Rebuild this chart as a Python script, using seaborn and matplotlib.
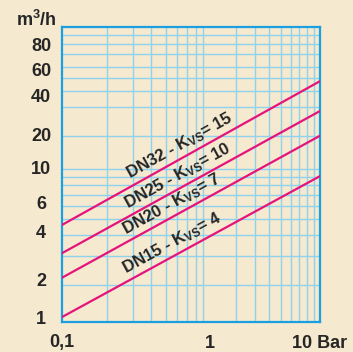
import numpy as np
import pandas as pd
import matplotlib
matplotlib.use("Agg")
import matplotlib.pyplot as plt
import seaborn as sns
from matplotlib.ticker import FixedLocator, NullFormatter, FixedFormatter

# valve flow curves (pressure drop bar -> flow m3/h)
dn_names = ["DN15", "DN20", "DN25", "DN32"]
kvs = [4, 7, 10, 15]
dp_bar = [0.1, 5.5]
q_dn15 = [1.27, 9.1]
q_dn20 = [2.2, 16.0]
q_dn25 = [3.1, 22.6]
q_dn32 = [4.6, 34.3]

# axis labelling as printed on the chart
x_tick_vals = [0.1, 1, 5.5]
x_tick_labels = ["0,1", "1", "10 Bar"]
y_tick_vals = [1.27, 2.15, 4.2, 6.25, 10.2, 16.2, 27.9, 40.1, 56.9]
y_tick_labels = ["1", "2", "4", "6", "10", "20", "40", "60", "80"]
x_grid = [0.2, 0.3, 0.4, 0.5, 0.6, 0.7, 0.8, 0.9, 1, 1.5, 2, 2.5, 3, 3.5, 4, 4.5, 5]
y_grid = [2, 3, 4, 5, 6, 7, 8, 9, 10, 16, 24, 30, 36, 42, 50, 58, 65]

bg = "#f5e9cf"
pink = "#e4147c"
grid_blue = "#8fd2ee"
spine_blue = "#1a9fe0"

series = [q_dn15, q_dn20, q_dn25, q_dn32]
df = pd.concat([pd.DataFrame({"dp": dp_bar, "q": q, "dn": name})
                for name, q in zip(dn_names, series)], ignore_index=True)

sns.set_style("white")
plt.rcParams["font.family"] = ["Liberation Sans", "DejaVu Sans"]
plt.rcParams["font.weight"] = "bold"
plt.rcParams["mathtext.fontset"] = "custom"
plt.rcParams["mathtext.rm"] = "Liberation Sans:bold"
plt.rcParams["mathtext.bf"] = "Liberation Sans:bold"

fig = plt.figure(figsize=(3.53, 3.52), dpi=100, facecolor=bg)
ax = fig.add_axes([62 / 353, 30 / 352, 258 / 353, 295.5 / 352])
ax.set_facecolor(bg)

sns.lineplot(data=df, x="dp", y="q", hue="dn", palette=[pink] * 4,
             legend=False, lw=1.6, ax=ax, zorder=3)

ax.set_xscale("log")
ax.set_yscale("log")
ax.set_xlim(0.1, 5.5)
ax.set_ylim(1.185, 73.6)

ax.xaxis.set_major_locator(FixedLocator(x_tick_vals))
ax.xaxis.set_major_formatter(FixedFormatter(x_tick_labels))
ax.yaxis.set_major_locator(FixedLocator(y_tick_vals))
ax.yaxis.set_major_formatter(FixedFormatter(y_tick_labels))
ax.xaxis.set_minor_locator(FixedLocator(x_grid))
ax.yaxis.set_minor_locator(FixedLocator(y_grid))
ax.xaxis.set_minor_formatter(NullFormatter())
ax.yaxis.set_minor_formatter(NullFormatter())

ax.grid(False, which="major")
ax.grid(True, which="minor", color=grid_blue, lw=1.0)
ax.set_axisbelow(True)
ax.tick_params(axis="both", which="both", length=0, labelsize=13)
ax.tick_params(axis="x", pad=9)
ax.tick_params(axis="y", pad=15)
for lab in ax.get_yticklabels():
    lab.set_ha("center")
for lab in ax.get_xticklabels() + ax.get_yticklabels():
    lab.set_fontweight("bold")

for s in ax.spines.values():
    s.set_visible(True)
    s.set_color(spine_blue)
    s.set_linewidth(1.6)

ax.set_xlabel("")
ax.set_ylabel("")
fig.text(36 / 353, 1 - 20 / 352, "m$^3$/h", ha="center", va="center",
         fontsize=13, fontweight="bold")

# curve labels along each line
label_dp = [0.6, 0.6, 0.66, 0.68]
for name, k, q, xd in zip(dn_names, kvs, series, label_dp):
    p0 = ax.transData.transform((dp_bar[0], q[0]))
    p1 = ax.transData.transform((dp_bar[1], q[1]))
    ang = np.degrees(np.arctan2(p1[1] - p0[1], p1[0] - p0[0]))
    slope = np.log(q[1] / q[0]) / np.log(dp_bar[1] / dp_bar[0])
    yq = q[0] * (xd / dp_bar[0]) ** slope
    d = 8.5
    off = (-np.sin(np.radians(ang)) * d, np.cos(np.radians(ang)) * d)
    ax.annotate(f"{name} - $\\mathbf{{K_{{VS}}}}$= {k}", (xd, yq),
                xytext=off, textcoords="offset points", rotation=ang,
                rotation_mode="anchor", ha="center", va="center",
                fontsize=12, fontweight="bold", zorder=4)

fig.savefig("out.png", dpi=100, facecolor=bg)
